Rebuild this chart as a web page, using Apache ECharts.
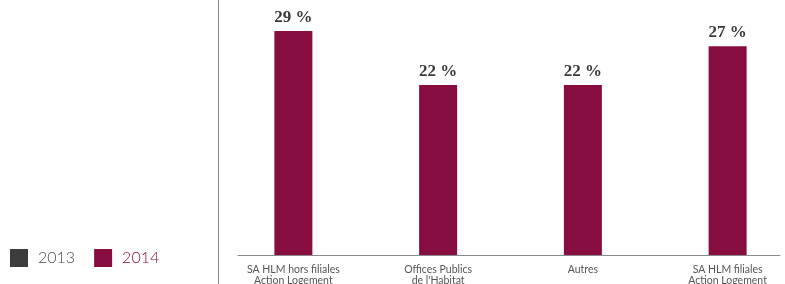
<!DOCTYPE html>
<html>
<head>
<meta charset="utf-8">
<script src="https://cdn.jsdelivr.net/npm/echarts@6/dist/echarts.min.js"></script>
<style>
  html, body { margin: 0; padding: 0; background: #fff; }
  #chart { width: 785px; height: 284px; }
</style>
</head>
<body>
<div id="chart"></div>
<script>
var categories = ['SA HLM hors filiales\nAction Logement', "Offices Publics\nde l'Habitat", 'Autres', 'SA HLM filiales\nAction Logement'];
var values2013 = [null, null, null, null];
var values2014 = [29, 22, 22, 27];

var maroon = '#870C3F';
var dark = '#3c3c3c';

var chart = echarts.init(document.getElementById('chart'));
var option = {
    animation: false,
    legend: {
        left: 5,
        bottom: 12,
        itemWidth: 18,
        itemHeight: 18,
        itemGap: 19,
        icon: 'rect',
        data: [
            { name: '2013', textStyle: { color: '#4a4a4a' } },
            { name: '2014', textStyle: { color: maroon } }
        ],
        textStyle: { fontFamily: 'Lato', fontSize: 16, fontWeight: 300, padding: [0, 0, 0, 5] }
    },
    grid: [
        { left: 221, width: 579, top: 0, bottom: 29, outerBoundsMode: 'none', containLabel: false },
        { left: 238, right: 5, top: 0, bottom: 29 }
    ],
    xAxis: [
        {
            type: 'category',
            gridIndex: 0,
            data: categories,
            axisLine: { show: false },
            axisTick: { show: false },
            axisLabel: {
                color: '#555',
                fontFamily: 'Lato',
                fontSize: 10.5,
                lineHeight: 11,
                margin: 9
            }
        },
        {
            type: 'category',
            gridIndex: 1,
            data: categories,
            axisLine: { show: true, lineStyle: { color: '#8a8a8a', width: 1 } },
            axisTick: { show: false },
            axisLabel: { show: false }
        }
    ],
    yAxis: [
        { type: 'value', gridIndex: 0, min: 0, max: 33, show: false, splitLine: { show: false } },
        { type: 'value', gridIndex: 1, min: 0, max: 33, show: false, splitLine: { show: false } }
    ],
    series: [
        {
            name: '2013',
            type: 'bar',
            data: values2013,
            barWidth: 38,
            barGap: '-100%',
            itemStyle: { color: dark }
        },
        {
            name: '2014',
            type: 'bar',
            data: values2014,
            barWidth: 38,
            barGap: '-100%',
            itemStyle: { color: maroon },
            label: {
                show: true,
                position: 'top',
                distance: 5,
                formatter: '{c} %',
                color: '#3a3a3a',
                fontFamily: 'Liberation Serif',
                fontWeight: 'bold',
                fontSize: 17
            }
        }
    ],
    graphic: [
        {
            type: 'line',
            shape: { x1: 218.5, y1: 0, x2: 218.5, y2: 284 },
            style: { stroke: '#8a8a8a', lineWidth: 1 }
        }
    ]
};
chart.setOption(option);
</script>
</body>
</html>
